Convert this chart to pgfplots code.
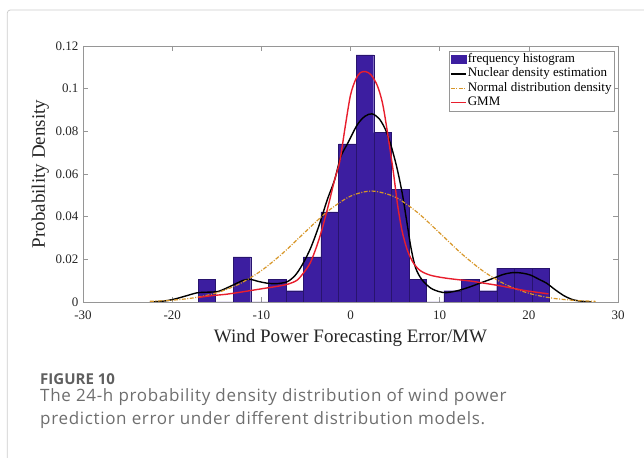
\documentclass[border=0pt]{standalone}
\usepackage{fontspec}
\setmainfont{Liberation Serif}
\newfontfamily\capfont{Open Sans}
\newfontfamily\capfontwide{Open Sans}[LetterSpace=4]
\usepackage{pgfplots}
\pgfplotsset{compat=1.18}
\definecolor{barblue}{RGB}{60,30,160}
\definecolor{baredge}{RGB}{40,20,110}
\definecolor{normorange}{RGB}{215,150,40}
\definecolor{gmmred}{RGB}{232,30,45}
\definecolor{axgray}{RGB}{150,150,150}
\definecolor{framegray}{RGB}{205,205,205}
\definecolor{capgray}{RGB}{110,110,110}
\definecolor{figgray}{RGB}{95,95,95}
\pgfplotsset{
  shortline/.style={legend image code/.code={\draw[##1] (0pt,0pt) -- (15pt,0pt);}},
  boxlegend/.style={legend image code/.code={\fill[barblue] (0pt,-4pt) rectangle (15pt,4pt);}},
}
\begin{document}
\begin{tikzpicture}
\useasboundingbox (0pt,0pt) rectangle (644pt,457pt);
\draw[framegray, line width=0.8pt, rounded corners=3pt] (7.3pt,-5pt) -- (7.3pt,447pt) -- (660pt,447pt);
\begin{axis}[
  at={(83pt,155pt)}, anchor=south west,
  scale only axis, width=535pt, height=256pt,
  xmin=-30, xmax=30, ymin=0, ymax=0.12,
  xtick={-30,-20,-10,0,10,20,30},
  ytick={0,0.02,0.04,0.06,0.08,0.1,0.12},
  tick align=inside, major tick length=5pt,
  axis line style={axgray, line width=0.6pt},
  tick style={axgray, line width=0.5pt},
  tick label style={font=\fontsize{13}{13}\selectfont, text=black!85},
  xticklabel style={yshift=-5pt},
  yticklabel style={xshift=-1pt, /pgf/number format/fixed, /pgf/number format/precision=2},
  /pgf/number format/assume math mode=true,
  scaled y ticks=false,
  xlabel={Wind Power Forecasting Error/MW},
  ylabel={Probability Density},
  label style={font=\fontsize{19}{19}\selectfont, text=black!85},
  xlabel style={yshift=-3pt},
  legend style={at={(1,1)}, anchor=north east, xshift=-4pt, yshift=-5pt,
    draw=axgray, line width=0.5pt, font=\fontsize{13}{13}\selectfont,
    inner sep=1pt, row sep=0pt,
    nodes={text height=9pt, text depth=3pt, inner sep=1.2pt}},
  legend cell align=left,
]
\addplot[ybar interval, fill=barblue, draw=baredge, line width=0.3pt, boxlegend] coordinates {
(-17.1,0.0106) (-15.13,0) (-13.16,0.0212) (-11.19,0) (-9.22,0.0106) (-7.25,0.0053)
(-5.28,0.0212) (-3.31,0.0423) (-1.34,0.0741) (0.63,0.1158) (2.6,0.0794) (4.57,0.0529)
(6.54,0.0106) (8.51,0) (10.48,0.0053) (12.45,0.0106) (14.42,0.0053) (16.39,0.0159)
(18.36,0.0159) (20.33,0.0159) (22.3,0)
};
\addlegendentry{frequency histogram}
\addplot[black, line width=1.4pt, smooth, shortline] coordinates {
(-22.5,0) (-21,0.0004) (-19.8,0.0013) (-18.5,0.0028) (-17.2,0.0043) (-16,0.0046)
(-14.8,0.0050) (-13.4,0.0075) (-12,0.0102) (-11.2,0.0106) (-10.4,0.0097) (-9.3,0.0088)
(-8.3,0.0086) (-7.1,0.0095) (-6.2,0.0125) (-5.4,0.0175) (-4.5,0.025) (-3.6,0.035)
(-2.6,0.048) (-1.8,0.057) (-1.1,0.068) (-0.3,0.0745) (0.75,0.083) (1.6,0.087)
(2.4,0.0882) (3.2,0.086) (3.9,0.081) (4.5,0.074) (5.2,0.063) (5.8,0.051) (6.3,0.038)
(6.8,0.025) (7.3,0.016) (8.0,0.0105) (9.0,0.0065) (10.0,0.0048) (10.8,0.0044)
(12.0,0.0053) (13.2,0.0068) (14.5,0.0088) (16,0.0111) (17.2,0.0130) (18.3,0.0138)
(19.3,0.0135) (20.2,0.0126) (21.2,0.0105) (22,0.0088) (23,0.0056) (24,0.0028)
(25,0.0010) (26,0.0003) (27,0)
};
\addlegendentry{Nuclear density estimation}
\addplot[normorange, line width=1.2pt, smooth, dash pattern=on 4pt off 1.5pt on 1pt off 1.5pt, shortline] coordinates {
(-22.5,0.00032) (-20,0.00084) (-17.5,0.00201) (-15,0.00432) (-12.5,0.00839)
(-10,0.01469) (-7.5,0.02324) (-5,0.03316) (-2.5,0.04269) (0,0.0496) (2.4,0.052)
(5,0.04919) (7.5,0.04199) (10,0.03235) (12.5,0.02249) (15,0.01411) (17.5,0.00798)
(20,0.00408) (22.5,0.00188) (25,0.00078) (27.5,0.00029)
};
\addlegendentry{Normal distribution density}
\addplot[gmmred, line width=1.4pt, smooth, shortline] coordinates {
(-17.1,0.0021) (-15.5,0.0030) (-14,0.0036) (-12.5,0.0045) (-11,0.0055) (-9.5,0.0065)
(-8,0.0075) (-7,0.0084) (-6,0.0102) (-5.2,0.0140) (-4.5,0.0185) (-3.8,0.026)
(-3.2,0.034) (-2.5,0.045) (-1.8,0.057) (-1.2,0.066) (-0.6,0.082) (0,0.097)
(0.6,0.1045) (1.1,0.1075) (1.7,0.108) (2.3,0.1065) (3,0.1015) (3.6,0.093)
(4.2,0.078) (4.8,0.061) (5.3,0.045) (5.8,0.033) (6.4,0.024) (7.1,0.018)
(7.9,0.0145) (9,0.0125) (10.5,0.0113) (12,0.0105) (13.5,0.0098) (15,0.0088)
(16.5,0.0078) (18,0.0066) (19.5,0.0054) (21,0.0045) (22.2,0.0038)
};
\addlegendentry{GMM}
\end{axis}
\node[anchor=base west, inner sep=0pt, font=\capfont\bfseries\fontsize{15}{15}\selectfont, text=figgray] at (40pt,72.7pt) {FIGURE 10};
\node[anchor=base west, inner sep=0pt, font=\capfontwide\fontsize{17}{17}\selectfont, text=capgray] at (40pt,55.3pt) {The 24-h probability density distribution of wind power};
\node[anchor=base west, inner sep=0pt, font=\capfontwide\fontsize{17}{17}\selectfont, text=capgray] at (40pt,32pt) {prediction error under different distribution models.};
\end{tikzpicture}
\end{document}
